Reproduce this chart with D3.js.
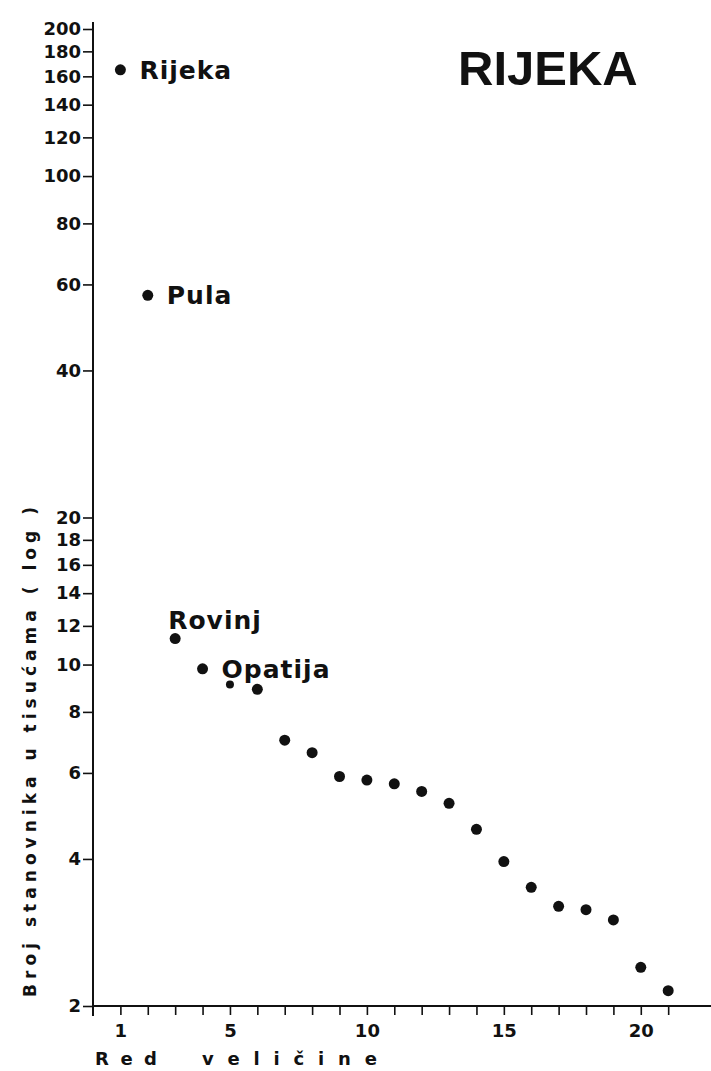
<!DOCTYPE html>
<html>
<head>
<meta charset="utf-8">
<script src="https://cdn.jsdelivr.net/npm/d3@7"></script>
<style>
  html, body { margin: 0; padding: 0; background: #fff; }
  svg { display: block; }
  text { font-family: "DejaVu Sans", sans-serif; fill: #111; }
</style>
</head>
<body>
<svg id="chart" width="711" height="1071"></svg>
<script>
// ---- data ----
const ranks = [1,2,3,4,5,6,7,8,9,10,11,12,13,14,15,16,17,18,19,20,21];
const population = [165, 57, 11.3, 9.8, 9.1, 8.9, 7.0, 6.6, 5.9, 5.8, 5.7, 5.5, 5.2, 4.6, 3.95, 3.5, 3.2, 3.15, 3.0, 2.4, 2.15];
const cityNames = ["Rijeka", "Pula", "Rovinj", "Opatija"];
const yTicks = [2,4,6,8,10,12,14,16,18,20,40,60,80,100,120,140,160,180,200];
const xTicks = [1,2,3,4,5,6,7,8,9,10,11,12,13,14,15,16,17,18,19,20,21];
const xLabels = [1,5,10,15,20];
const title = "RIJEKA";
const yTitle = "Broj stanovnika u tisućama ( log )";
const xTitleWords = ["Red", "veličine"];

// ---- layout ----
const svg = d3.select("#chart");
const x = d3.scaleLinear().domain([0, 22.6]).range([93, 712]);
const y = d3.scaleLog().domain([2, 200]).range([1006, 29]);
const x0 = x(0), yBase = y(2);

// axis lines
svg.append("line").attr("x1", x0).attr("x2", x0).attr("y1", 22).attr("y2", 1016)
  .attr("stroke", "#111").attr("stroke-width", 2);
svg.append("line").attr("x1", x0).attr("x2", 711).attr("y1", yBase).attr("y2", yBase)
  .attr("stroke", "#111").attr("stroke-width", 2);

// y axis
const gy = svg.append("g").attr("transform", `translate(${x0},0)`)
  .call(d3.axisLeft(y).tickValues(yTicks).tickFormat(d3.format("d")).tickSize(10).tickPadding(2));
gy.select(".domain").remove();
gy.selectAll(".tick line").attr("stroke", "#111").attr("stroke-width", 1.6);
gy.selectAll(".tick text").style("font-family", "DejaVu Sans, sans-serif")
  .style("font-size", "18px").style("font-weight", "bold").attr("fill", "#111");

// x axis
const gx = svg.append("g").attr("transform", `translate(0,${yBase})`)
  .call(d3.axisBottom(x).tickValues(xTicks)
    .tickFormat(d => xLabels.includes(d) ? d : "").tickSize(9).tickPadding(9));
gx.select(".domain").remove();
gx.selectAll(".tick line").attr("stroke", "#111").attr("stroke-width", 1.6);
gx.selectAll(".tick text").style("font-family", "DejaVu Sans, sans-serif")
  .style("font-size", "18px").style("font-weight", "bold").attr("fill", "#111");

// axis titles
svg.append("text")
  .attr("transform", `translate(36,997) rotate(-90)`)
  .attr("x", 0).attr("y", 0)
  .attr("textLength", 490).attr("lengthAdjust", "spacing")
  .style("font-size", "17px").style("font-weight", "bold")
  .text(yTitle);

const xt = svg.append("text").attr("y", 1065)
  .style("font-size", "18px").style("font-weight", "bold");
xt.append("tspan").attr("x", 95).attr("textLength", 62).attr("lengthAdjust", "spacing").text(xTitleWords[0]);
xt.append("tspan").attr("x", 202).attr("textLength", 175).attr("lengthAdjust", "spacing").text(xTitleWords[1]);

// title
svg.append("text").attr("x", 458).attr("y", 85)
  .style("font-family", "Liberation Sans, Arial, sans-serif")
  .style("font-size", "49px").style("font-weight", "bold")
  .text(title);

// points
const pts = ranks.map((r, i) => ({ r, v: population[i], name: cityNames[i] }));
svg.append("g").selectAll("circle").data(pts).join("circle")
  .attr("cx", d => x(d.r)).attr("cy", d => y(d.v))
  .attr("r", d => d.r === 5 ? 4 : 5.5)
  .attr("fill", "#111");

// city labels
svg.append("g").selectAll("text").data(pts.filter(d => d.name)).join("text")
  .attr("x", d => d.name === "Rovinj" ? x(d.r) - 7 : x(d.r) + 19)
  .attr("y", d => d.name === "Rovinj" ? y(d.v) - 10 : y(d.v) + 9)
  .style("font-size", "25px").style("font-weight", "bold")
  .style("letter-spacing", "1px")
  .text(d => d.name);
</script>
</body>
</html>
